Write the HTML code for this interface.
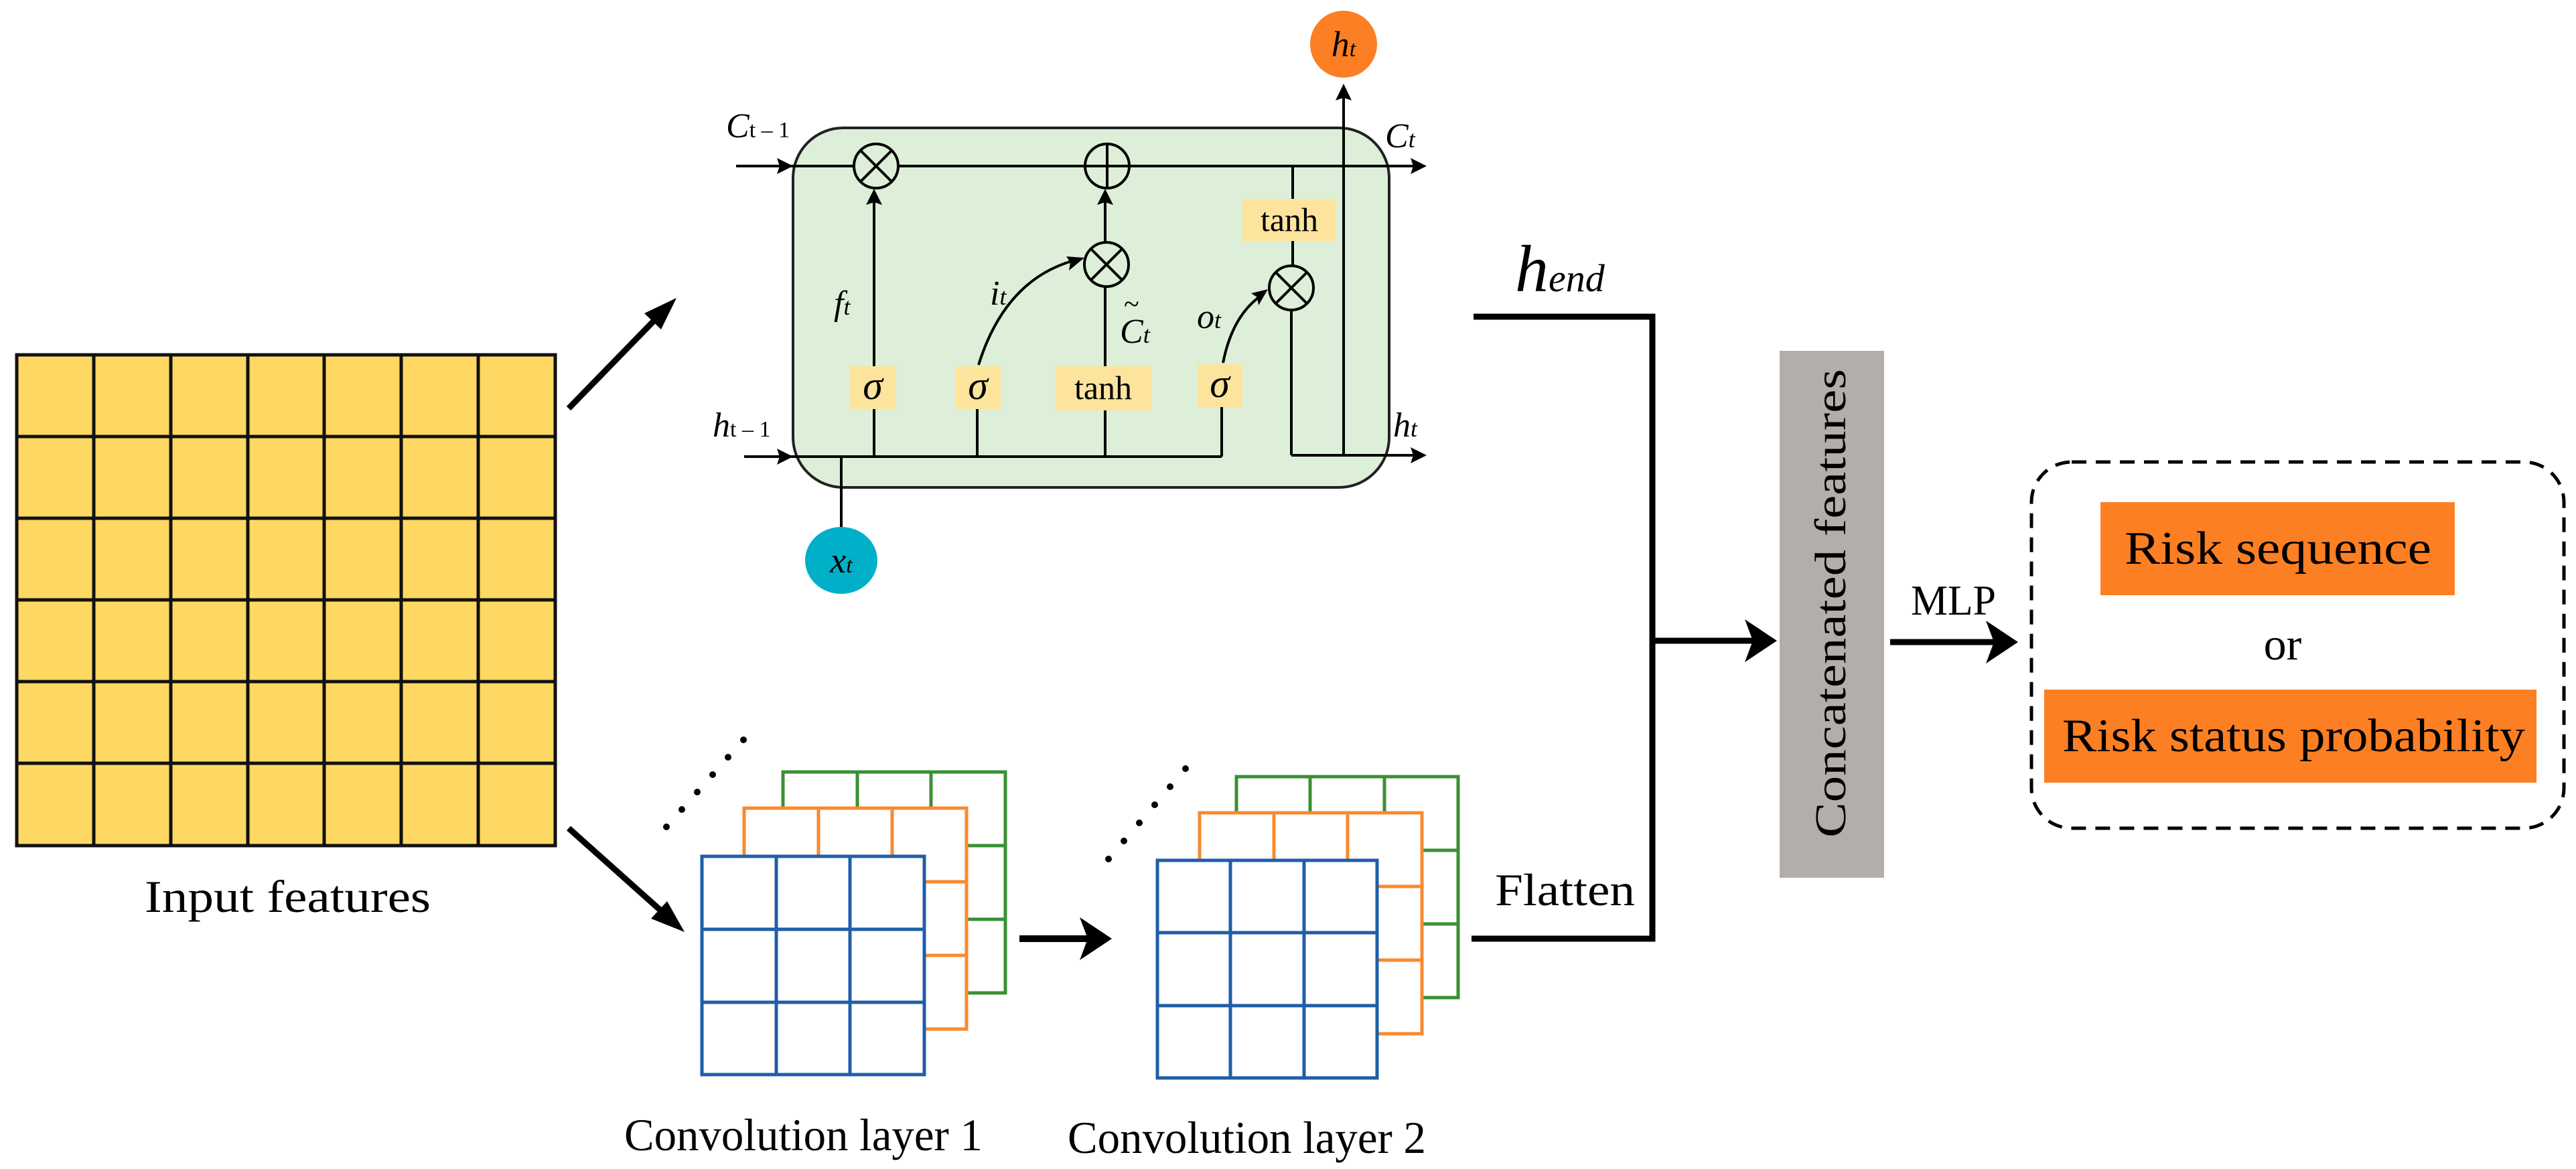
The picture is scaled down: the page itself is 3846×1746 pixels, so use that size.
<!DOCTYPE html>
<html><head><meta charset="utf-8"><style>
html,body{margin:0;padding:0;background:#fff;}
svg{display:block;}
</style></head><body>
<svg width="3846" height="1746" viewBox="0 0 3846 1746" xmlns="http://www.w3.org/2000/svg" font-family="'Liberation Serif', 'Times New Roman', serif">
<!-- Input grid -->
<rect x="25" y="530" width="804" height="733" fill="#fed862" stroke="#111" stroke-width="5"/>
<g stroke="#111" stroke-width="5">
<line x1="140" y1="530" x2="140" y2="1263"/><line x1="255" y1="530" x2="255" y2="1263"/><line x1="370" y1="530" x2="370" y2="1263"/><line x1="484" y1="530" x2="484" y2="1263"/><line x1="599" y1="530" x2="599" y2="1263"/><line x1="714" y1="530" x2="714" y2="1263"/>
<line x1="25" y1="652" x2="829" y2="652"/><line x1="25" y1="774" x2="829" y2="774"/><line x1="25" y1="896" x2="829" y2="896"/><line x1="25" y1="1018" x2="829" y2="1018"/><line x1="25" y1="1140" x2="829" y2="1140"/>
</g>
<text x="216" y="1362" font-size="68" textLength="427" lengthAdjust="spacingAndGlyphs">Input features</text>
<!-- arrows from grid -->
<line x1="849" y1="610" x2="990" y2="465" stroke="#000" stroke-width="9"/>
<polygon points="1010,445 962,468 987,492" fill="#000"/>
<line x1="849" y1="1237" x2="1000" y2="1372" stroke="#000" stroke-width="9"/>
<polygon points="1022,1392 996,1346 972,1372" fill="#000"/>
<!-- LSTM -->
<rect x="1184" y="191" width="890" height="537" rx="75" fill="#ddefd9" stroke="#222" stroke-width="4"/>
<g stroke="#000" stroke-width="4" fill="none">
<line x1="1099" y1="248" x2="2120" y2="248"/>
<line x1="1111" y1="682" x2="1824" y2="682"/>
<line x1="1824" y1="682" x2="1824" y2="608"/>
<line x1="1256" y1="682" x2="1256" y2="790"/>
<line x1="1305" y1="682" x2="1305" y2="290"/>
<line x1="1459" y1="682" x2="1459" y2="611"/>
<line x1="1650" y1="682" x2="1650" y2="428"/>
<line x1="1650" y1="362" x2="1650" y2="290"/>
<line x1="1930" y1="248" x2="1930" y2="397"/>
<line x1="1928" y1="463" x2="1928" y2="680"/>
<line x1="1928" y1="680" x2="2120" y2="680"/>
<line x1="2006" y1="680" x2="2006" y2="135"/>
<path d="M1461,545 Q1500,420 1600,390"/>
<path d="M1826,542 Q1840,470 1885,440"/>
</g>
<g fill="#000">
<polygon points="1184,248 1160,236 1164,248 1160,260"/>
<polygon points="1184,682 1160,670 1164,682 1160,694"/>
<polygon points="2130,248 2106,236 2110,248 2106,260"/>
<polygon points="2130,680 2106,668 2110,680 2106,692"/>
<polygon points="1305,282 1293,306 1305,302 1317,306"/>
<polygon points="1650,282 1638,306 1650,302 1662,306"/>
<polygon points="2006,125 1994,150 2006,146 2018,150"/>
<polygon points="1619,385 1592,383 1598,392 1596,404"/>
<polygon points="1893,432 1868,438 1877,444 1879,456"/>
</g>
<g stroke="#000" stroke-width="4" fill="none">
<circle cx="1308" cy="248" r="33" fill="#ddefd9"/><line x1="1285" y1="225" x2="1331" y2="271"/><line x1="1331" y1="225" x2="1285" y2="271"/>
<circle cx="1653" cy="248" r="33" fill="#ddefd9"/><line x1="1620" y1="248" x2="1686" y2="248"/><line x1="1653" y1="215" x2="1653" y2="281"/>
<circle cx="1652" cy="395" r="33" fill="#ddefd9"/><line x1="1629" y1="372" x2="1675" y2="418"/><line x1="1675" y1="372" x2="1629" y2="418"/>
<circle cx="1928" cy="430" r="33" fill="#ddefd9"/><line x1="1905" y1="407" x2="1951" y2="453"/><line x1="1951" y1="407" x2="1905" y2="453"/>
</g>
<g fill="#fde49d">
<rect x="1269" y="547" width="69" height="64"/>
<rect x="1427" y="547" width="67" height="64"/>
<rect x="1576" y="547" width="143" height="66"/>
<rect x="1788" y="544" width="67" height="64"/>
<rect x="1855" y="297" width="140" height="63"/>
</g>
<g font-size="60" text-anchor="middle" font-style="italic">
<text x="1303" y="596">σ</text><text x="1460" y="596">σ</text><text x="1821" y="593">σ</text>
</g>
<g font-size="50" text-anchor="middle">
<text x="1647" y="596">tanh</text><text x="1925" y="345">tanh</text>
</g>
<g font-size="52" font-style="italic">
<text x="1084" y="205">C<tspan font-size="34" font-style="normal">t – 1</tspan></text>
<text x="1064" y="652">h<tspan font-size="34" font-style="normal">t – 1</tspan></text>
<text x="2068" y="220">C<tspan font-size="36">t</tspan></text>
<text x="2080" y="652">h<tspan font-size="36">t</tspan></text>
<text x="1245" y="470">f<tspan font-size="36">t</tspan></text>
<text x="1478" y="455">i<tspan font-size="36">t</tspan></text>
<text x="1672" y="512">C<tspan font-size="36">t</tspan></text>
<text x="1787" y="490">o<tspan font-size="36">t</tspan></text>
</g>
<text x="1678" y="468" font-size="42">~</text>
<ellipse cx="2006" cy="66" rx="50" ry="50" fill="#fd7f23"/>
<text x="2006" y="84" font-size="54" font-style="italic" text-anchor="middle">h<tspan font-size="34">t</tspan></text>
<ellipse cx="1256" cy="837" rx="54" ry="50" fill="#00b0c8"/>
<text x="1256" y="855" font-size="54" font-style="italic" text-anchor="middle">x<tspan font-size="34">t</tspan></text>
<!-- conv layer 1 -->
<g fill="#fff" stroke-width="5">
<g stroke="#3a9033"><rect x="1169" y="1153" width="332" height="330"/><line x1="1280" y1="1153" x2="1280" y2="1483"/><line x1="1390" y1="1153" x2="1390" y2="1483"/><line x1="1169" y1="1263" x2="1501" y2="1263"/><line x1="1169" y1="1373" x2="1501" y2="1373"/></g>
<g stroke="#f98a2f"><rect x="1111" y="1207" width="332" height="330"/><line x1="1222" y1="1207" x2="1222" y2="1537"/><line x1="1332" y1="1207" x2="1332" y2="1537"/><line x1="1111" y1="1317" x2="1443" y2="1317"/><line x1="1111" y1="1427" x2="1443" y2="1427"/></g>
<g stroke="#1f5ea8"><rect x="1048" y="1279" width="332" height="326"/><line x1="1159" y1="1279" x2="1159" y2="1605"/><line x1="1269" y1="1279" x2="1269" y2="1605"/><line x1="1048" y1="1388" x2="1380" y2="1388"/><line x1="1048" y1="1497" x2="1380" y2="1497"/></g>
</g>
<!-- conv layer 2 -->
<g fill="#fff" stroke-width="5">
<g stroke="#3a9033"><rect x="1846" y="1160" width="331" height="330"/><line x1="1956" y1="1160" x2="1956" y2="1490"/><line x1="2067" y1="1160" x2="2067" y2="1490"/><line x1="1846" y1="1270" x2="2177" y2="1270"/><line x1="1846" y1="1380" x2="2177" y2="1380"/></g>
<g stroke="#f98a2f"><rect x="1791" y="1214" width="332" height="330"/><line x1="1902" y1="1214" x2="1902" y2="1544"/><line x1="2012" y1="1214" x2="2012" y2="1544"/><line x1="1791" y1="1324" x2="2123" y2="1324"/><line x1="1791" y1="1434" x2="2123" y2="1434"/></g>
<g stroke="#1f5ea8"><rect x="1728" y="1285" width="328" height="325"/><line x1="1837" y1="1285" x2="1837" y2="1610"/><line x1="1947" y1="1285" x2="1947" y2="1610"/><line x1="1728" y1="1393" x2="2056" y2="1393"/><line x1="1728" y1="1502" x2="2056" y2="1502"/></g>
</g>
<g fill="#000">
<circle cx="995" cy="1235" r="5"/><circle cx="1018" cy="1209" r="5"/><circle cx="1041" cy="1183" r="5"/><circle cx="1064" cy="1157" r="5"/><circle cx="1087" cy="1131" r="5"/><circle cx="1110" cy="1105" r="5"/>
<circle cx="1655" cy="1283" r="5"/><circle cx="1678" cy="1256" r="5"/><circle cx="1701" cy="1229" r="5"/><circle cx="1724" cy="1202" r="5"/><circle cx="1747" cy="1175" r="5"/><circle cx="1770" cy="1148" r="5"/>
</g>
<line x1="1522" y1="1402" x2="1635" y2="1402" stroke="#000" stroke-width="10"/>
<polygon points="1660,1402 1612,1370 1624,1402 1612,1434" fill="#000"/>
<text x="932" y="1718" font-size="68" textLength="535" lengthAdjust="spacingAndGlyphs">Convolution layer 1</text>
<text x="1594" y="1722" font-size="68" textLength="535" lengthAdjust="spacingAndGlyphs">Convolution layer 2</text>
<!-- merge lines -->
<path d="M2200,473 H2467 V1402 H2197" stroke="#000" stroke-width="9" fill="none"/>
<line x1="2467" y1="957" x2="2630" y2="957" stroke="#000" stroke-width="9"/>
<polygon points="2653,957 2605,925 2617,957 2605,989" fill="#000"/>
<text x="2262" y="435" font-size="100" font-style="italic">h<tspan font-size="58">end</tspan></text>
<text x="2232" y="1352" font-size="68" textLength="209" lengthAdjust="spacingAndGlyphs">Flatten</text>
<rect x="2657" y="524" width="156" height="787" fill="#b3aeab"/>
<text transform="translate(2755,1251) rotate(-90)" font-size="66" textLength="700" lengthAdjust="spacingAndGlyphs">Concatenated features</text>
<text x="2853" y="918" font-size="64" textLength="127" lengthAdjust="spacingAndGlyphs">MLP</text>
<line x1="2822" y1="959" x2="2990" y2="959" stroke="#000" stroke-width="9"/>
<polygon points="3013,959 2965,927 2977,959 2965,991" fill="#000"/>
<rect x="3033" y="690" width="795" height="547" rx="60" fill="none" stroke="#000" stroke-width="5" stroke-dasharray="22,14"/>
<rect x="3136" y="750" width="529" height="139" fill="#fd7f23"/>
<text x="3172" y="842" font-size="70" textLength="458" lengthAdjust="spacingAndGlyphs">Risk sequence</text>
<text x="3408" y="985" font-size="68" text-anchor="middle">or</text>
<rect x="3052" y="1030" width="735" height="139" fill="#fd7f23"/>
<text x="3079" y="1122" font-size="70" textLength="691" lengthAdjust="spacingAndGlyphs">Risk status probability</text>
</svg>
</body></html>
